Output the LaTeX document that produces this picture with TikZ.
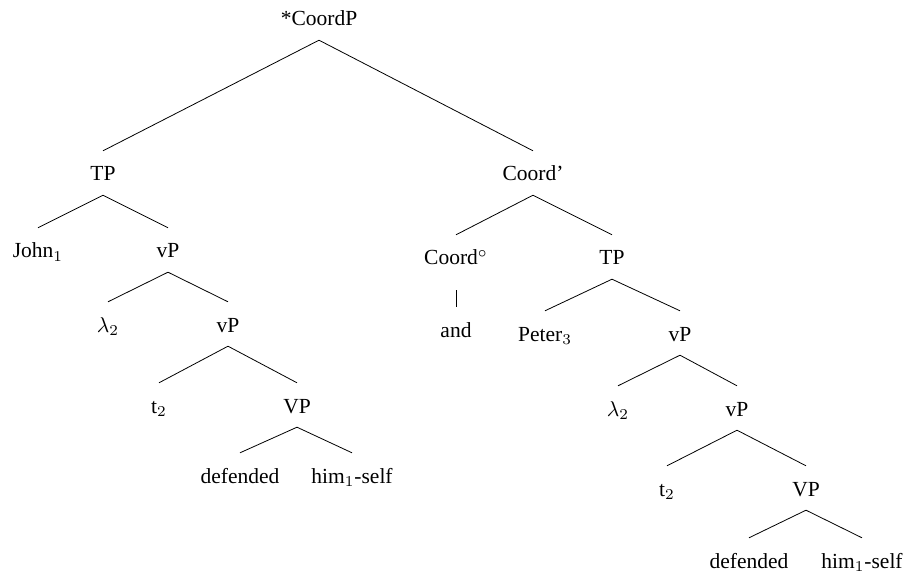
\documentclass[tikz,border=0pt]{standalone}
\usepackage{graphicx}
\usepackage{fontspec}
\setmainfont{Liberation Serif}
\newcommand\mbit[1]{\scalebox{2.15}{\fontsize{10}{12}\selectfont$#1$}}
\begin{document}
\begin{tikzpicture}[x=1pt,y=-1pt,
  lab/.style={anchor=base, inner xsep=0pt, inner ysep=0pt, text height=30pt, text depth=14pt, font=\fontsize{21.5}{25}\selectfont},
  edge/.style={draw, line width=0.8pt}]
\useasboundingbox (0,0) rectangle (906,575);
\node[lab] (cp) at (319,26) {*CoordP};
\node[lab] (tp1) at (103,181) {TP};
\node[lab] (cbar) at (533,181) {Coord'};
\node[lab] (john) at (38,258) {John\mbit{_1}};
\node[lab] (vp1) at (168,258) {vP};
\node[lab] (lam1) at (108,332) {\mbit{\lambda_2}};
\node[lab] (vp2) at (228,332) {vP};
\node[lab] (t1) at (159,413) {t\mbit{_2}};
\node[lab] (VP1) at (297,413) {VP};
\node[lab] (def1) at (240,483) {defended};
\node[lab] (him1) at (352,483) {him\mbit{_1}-self};
\node[lab] (co) at (456,265) {Coord\mbit{^\circ}};
\node[lab] (tp2) at (612,265) {TP};
\node[lab] (and) at (456,337) {and};
\node[lab] (peter) at (545,341) {Peter\mbit{_3}};
\node[lab] (vp3) at (680,341) {vP};
\node[lab] (lam2) at (618,416) {\mbit{\lambda_2}};
\node[lab] (vp4) at (737,416) {vP};
\node[lab] (t2) at (667,496) {t\mbit{_2}};
\node[lab] (VP2) at (806,496) {VP};
\node[lab] (def2) at (749,568) {defended};
\node[lab] (him2) at (862,568) {him\mbit{_1}-self};
\draw[edge] (cp.south) -- (tp1.north);
\draw[edge] (cp.south) -- (cbar.north);
\draw[edge] (tp1.south) -- (john.north);
\draw[edge] (tp1.south) -- (vp1.north);
\draw[edge] (vp1.south) -- (lam1.north);
\draw[edge] (vp1.south) -- (vp2.north);
\draw[edge] (vp2.south) -- (t1.north);
\draw[edge] (vp2.south) -- (VP1.north);
\draw[edge] (VP1.south) -- (def1.north);
\draw[edge] (VP1.south) -- (him1.north);
\draw[edge] (cbar.south) -- (co.north);
\draw[edge] (cbar.south) -- (tp2.north);
\draw[edge] ([yshift=-11pt]co.south) -- (and.north);
\draw[edge] (tp2.south) -- (peter.north);
\draw[edge] (tp2.south) -- (vp3.north);
\draw[edge] (vp3.south) -- (lam2.north);
\draw[edge] (vp3.south) -- (vp4.north);
\draw[edge] (vp4.south) -- (t2.north);
\draw[edge] (vp4.south) -- (VP2.north);
\draw[edge] (VP2.south) -- (def2.north);
\draw[edge] (VP2.south) -- (him2.north);
\end{tikzpicture}
\end{document}
